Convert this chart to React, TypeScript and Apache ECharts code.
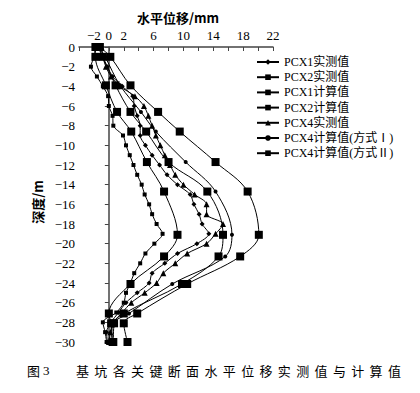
import React, { useEffect, useRef } from 'react';
import * as echarts from 'echarts';

// Depths (m)
const measuredDepths = [0, -1, -2, -3, -4, -5, -6, -7, -8, -9, -10, -11, -12, -13, -14, -15, -16, -17, -18, -19, -20, -21, -22, -23, -24, -25, -26, -27, -28, -29, -30];
const calcDepths = [0, -1, -3.9, -6.6, -8.6, -11.7, -14.7, -19.1, -21.3, -24.1, -27.1, -28.1, -30];

// Horizontal displacement (mm)
const pcx1Measured = [-1.2, -0.9, -0.2, 0.5, 1.8, 3.2, 3.4, 3.8, 4.2, 4.2, 4.9, 5.8, 6.8, 7.8, 9.2, 10.9, 11.4, 12.1, 12.5, 13.4, 11.8, 9.2, 7.5, 5.8, 5.4, 3.8, 2.3, 1.3, 0.3, -0.3, -0.2];
const pcx2Measured = [-1.8, -2.0, -2.4, -1.6, -0.8, -0.1, 0.0, 0.5, 0.6, 1.9, 2.3, 2.8, 3.3, 3.8, 4.4, 4.8, 5.4, 5.8, 6.4, 7.2, 6.1, 4.9, 4.2, 3.4, 2.9, 2.3, 2.0, 1.0, -0.8, -0.5, -0.3];
const pcx4Measured = [-1.0, -0.8, -0.4, 0.3, 1.5, 3.5, 4.7, 5.3, 5.8, 6.3, 6.9, 7.5, 8.2, 8.9, 10.0, 11.5, 13.1, 13.1, 15.3, 14.3, 13.1, 10.5, 8.9, 7.3, 6.4, 4.8, 3.0, 1.8, 0.6, 0.2, 0.0];
const pcx1Calc = [-1.5, -0.8, 0.9, 2.9, 5.0, 8.0, 13.2, 15.3, 14.7, 9.8, 2.0, 0.7, 0.6];
const pcx2Calc = [-1.8, -1.8, -0.4, 1.1, 3.0, 5.1, 7.4, 9.2, 7.4, 2.9, 0.0, 0.3, 0.5];
const pcx4CalcI = [-1.3, -0.5, 1.5, 4.3, 6.3, 10.3, 14.3, 16.5, 15.6, 8.5, 2.7, 0.6, 0.3];
const pcx4CalcII = [-1.2, 0.2, 2.9, 6.6, 9.5, 14.3, 18.6, 20.1, 17.6, 10.5, 3.8, 2.0, 2.5];

const seriesNames = ['PCX1实测值', 'PCX2实测值', 'PCX1计算值', 'PCX2计算值', 'PCX4实测值', 'PCX4计算值(方式Ⅰ)', 'PCX4计算值(方式Ⅱ)'];
const xLabelsShown = [-2, 0, 2, 6, 10, 14, 18, 22];
const xAxisTitle = '水平位移/mm';
const yAxisTitle = '深度/m';
const captionHead = ['图', '3'];
const captionBody = '基坑各关键断面水平位移实测值与计算值'.split('');

const SERIF = "'Liberation Serif','Times New Roman','Noto Sans CJK SC',serif";
const CJK = "'Noto Sans CJK SC','Liberation Serif',sans-serif";

const fmt = (v: number) => (v < 0 ? '\u2212' + String(-v) : String(v));
const pair = (xs: number[], ds: number[]) => xs.map((x, i) => [x, ds[i]]);

export default function App() {
  const ref = useRef<HTMLDivElement>(null);
  useEffect(() => {
    const chart = echarts.init(ref.current!, null, { renderer: 'svg' });
    const mk = (name: string, data: number[][], symbol: string, size: number, smooth: number) => ({
      name,
      type: 'line',
      data,
      symbol,
      symbolSize: size,
      smooth,
      lineStyle: { color: '#000', width: 1 },
      itemStyle: { color: '#000' },
      z: 3,
    });
    const graphics: any[] = [
      {
        type: 'text', x: 178, y: 17,
        style: { text: xAxisTitle, font: `bold 13px ${CJK}`, fill: '#000', align: 'center', verticalAlign: 'middle' },
      },
      {
        type: 'text', x: 37, y: 202, rotation: Math.PI / 2,
        style: { text: yAxisTitle, font: `bold 13px ${CJK}`, fill: '#000', align: 'center', verticalAlign: 'middle' },
      },
      {
        type: 'text', x: 27, y: 370,
        style: { text: captionHead[0], font: `13px ${CJK}`, fill: '#000', align: 'left', verticalAlign: 'middle' },
      },
      {
        type: 'text', x: 43, y: 370,
        style: { text: captionHead[1], font: `13px ${SERIF}`, fill: '#000', align: 'left', verticalAlign: 'middle' },
      },
      ...captionBody.map((c, i) => ({
        type: 'text', x: 76 + i * 18.35, y: 370,
        style: { text: c, font: `13px ${CJK}`, fill: '#000', align: 'left', verticalAlign: 'middle' },
      })),
    ];
    chart.setOption({
      animation: false,
      backgroundColor: '#fff',
      grid: { left: 79, right: 147, top: 47, bottom: 51 },
      xAxis: {
        type: 'value',
        position: 'top',
        min: -4,
        max: 22,
        interval: 2,
        axisLine: { show: true, lineStyle: { color: '#444', width: 1.5 } },
        axisTick: { show: true, inside: true, length: 4, lineStyle: { color: '#444' } },
        splitLine: { show: false },
        axisLabel: {
          margin: 5,
          color: '#000',
          fontFamily: SERIF,
          fontSize: 13,
          showMinLabel: true,
          showMaxLabel: true,
          formatter: (v: number) => (xLabelsShown.includes(v) ? fmt(v) : ''),
        },
      },
      yAxis: {
        type: 'value',
        min: -30,
        max: 0,
        interval: 2,
        axisLine: { show: true, lineStyle: { color: '#444', width: 1.5 } },
        axisTick: { show: true, inside: false, length: 4, lineStyle: { color: '#444' } },
        splitLine: { show: false },
        axisLabel: { margin: 4, color: '#000', fontFamily: SERIF, fontSize: 13, formatter: (v: number) => fmt(v) },
      },
      legend: {
        orient: 'vertical',
        left: 256,
        top: 56,
        itemWidth: 22,
        itemHeight: 7,
        itemGap: 3.2,
        padding: 0,
        textStyle: { fontFamily: SERIF, fontSize: 12, color: '#000' },
        data: seriesNames,
      },
      graphic: graphics,
      series: [
        mk(seriesNames[0], pair(pcx1Measured, measuredDepths), 'diamond', 5, 0.3),
        mk(seriesNames[1], pair(pcx2Measured, measuredDepths), 'rect', 4, 0.3),
        mk(seriesNames[2], pair(pcx1Calc, calcDepths), 'rect', 8, 0.35),
        mk(seriesNames[3], pair(pcx2Calc, calcDepths), 'rect', 8, 0.35),
        mk(seriesNames[4], pair(pcx4Measured, measuredDepths), 'triangle', 6, 0.3),
        mk(seriesNames[5], pair(pcx4CalcI, calcDepths), 'circle', 4, 0.35),
        mk(seriesNames[6], pair(pcx4CalcII, calcDepths), 'rect', 8, 0.35),
      ],
    });
    return () => chart.dispose();
  }, []);
  return (
    <div
      ref={ref}
      style={{ position: 'absolute', left: 0, top: 0, width: 420, height: 393, background: '#fff' }}
    />
  );
}
